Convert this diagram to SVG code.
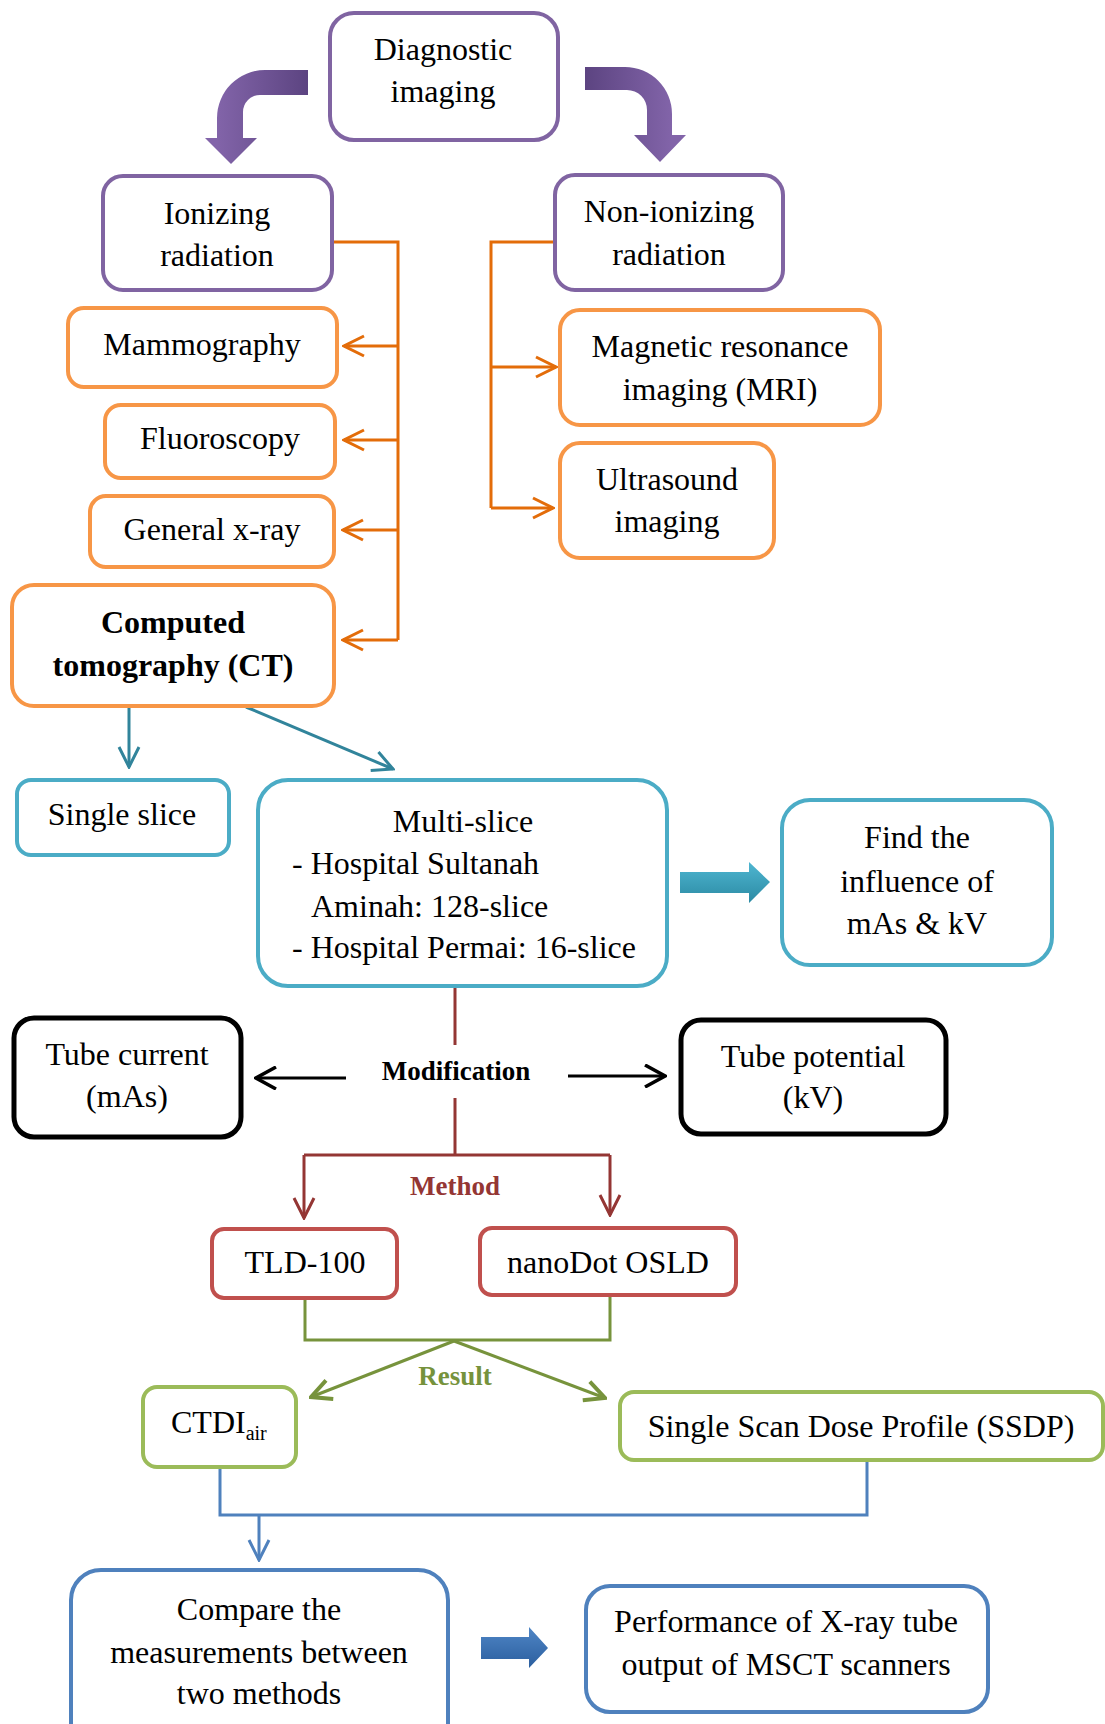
<svg xmlns="http://www.w3.org/2000/svg" width="1105" height="1724" viewBox="0 0 1105 1724">
<style>
.t{font-family:"Liberation Serif","Times New Roman",serif;font-size:32px;fill:#000}
.c{text-anchor:middle}
.b{font-weight:bold}
.lbl{font-family:"Liberation Serif","Times New Roman",serif;font-size:27px;font-weight:bold;text-anchor:middle}
.box{fill:#fff;stroke-width:4}
.pu{stroke:#8064A2}
.or{stroke:#F79646}
.cy{stroke:#4BACC6}
.bk{stroke:#000;stroke-width:5}
.rd{stroke:#C0504D}
.gr{stroke:#9BBB59}
.bl{stroke:#4F81BD}
.ln{fill:none;stroke-width:3}
</style>
<defs>
<linearGradient id="gL" x1="217" y1="0" x2="308" y2="0" gradientUnits="userSpaceOnUse"><stop offset="0" stop-color="#8264A9"/><stop offset="1" stop-color="#5C4481"/></linearGradient>
<linearGradient id="gR" x1="585" y1="0" x2="672" y2="0" gradientUnits="userSpaceOnUse"><stop offset="0" stop-color="#5C4481"/><stop offset="1" stop-color="#8264A9"/></linearGradient>
<linearGradient id="gC" x1="0" y1="0" x2="0" y2="1"><stop offset="0" stop-color="#4FB6D1"/><stop offset="1" stop-color="#2B8AA3"/></linearGradient>
<linearGradient id="gB" x1="0" y1="0" x2="0" y2="1"><stop offset="0" stop-color="#4F86C6"/><stop offset="1" stop-color="#2B5E9E"/></linearGradient>
<marker id="mO" viewBox="-22 -12 24 24" refX="0" refY="0" markerWidth="24" markerHeight="24" markerUnits="userSpaceOnUse" orient="auto"><path d="M-20,-10 L0,0 L-20,10" fill="none" stroke="#E36C09" stroke-width="3"/></marker>
<marker id="mT" viewBox="-22 -12 24 24" refX="0" refY="0" markerWidth="24" markerHeight="24" markerUnits="userSpaceOnUse" orient="auto"><path d="M-20,-10 L0,0 L-20,10" fill="none" stroke="#31849B" stroke-width="3"/></marker>
<marker id="mK" viewBox="-22 -12 24 24" refX="0" refY="0" markerWidth="24" markerHeight="24" markerUnits="userSpaceOnUse" orient="auto"><path d="M-20,-11 L0,0 L-20,11" fill="none" stroke="#000" stroke-width="3.5"/></marker>
<marker id="mR" viewBox="-22 -12 24 24" refX="0" refY="0" markerWidth="24" markerHeight="24" markerUnits="userSpaceOnUse" orient="auto"><path d="M-20,-10 L0,0 L-20,10" fill="none" stroke="#943634" stroke-width="3"/></marker>
<marker id="mG" viewBox="-22 -12 24 24" refX="0" refY="0" markerWidth="24" markerHeight="24" markerUnits="userSpaceOnUse" orient="auto"><path d="M-20,-10 L0,0 L-20,10" fill="none" stroke="#77933C" stroke-width="4"/></marker>
<marker id="mB" viewBox="-22 -12 24 24" refX="0" refY="0" markerWidth="24" markerHeight="24" markerUnits="userSpaceOnUse" orient="auto"><path d="M-20,-10 L0,0 L-20,10" fill="none" stroke="#4F81BD" stroke-width="3"/></marker>
</defs>

<g id="connectors">
<path d="M308,70 H265 A48,48 0 0 0 217,118 V138 H205 L231,164 L257,138 H243 V112 A17,17 0 0 1 260,95 H308 Z" fill="url(#gL)"/>
<path d="M585,67 H625 A47,47 0 0 1 672,114 V135 H686 L660,162 L634,135 H647 V110 A20,20 0 0 0 627,90 H585 Z" fill="url(#gR)"/>
<path class="ln" stroke="#E36C09" d="M332,242 H398 V640"/>
<path class="ln" stroke="#E36C09" marker-end="url(#mO)" d="M398,346 H344"/>
<path class="ln" stroke="#E36C09" marker-end="url(#mO)" d="M398,440 H344"/>
<path class="ln" stroke="#E36C09" marker-end="url(#mO)" d="M398,530 H343"/>
<path class="ln" stroke="#E36C09" marker-end="url(#mO)" d="M398,640 H343"/>
<path class="ln" stroke="#E36C09" d="M555,242 H491 V508"/>
<path class="ln" stroke="#E36C09" marker-end="url(#mO)" d="M491,367 H556"/>
<path class="ln" stroke="#E36C09" marker-end="url(#mO)" d="M491,508 H553"/>
<path class="ln" stroke="#31849B" marker-end="url(#mT)" d="M129,707 V767"/>
<path class="ln" stroke="#31849B" marker-end="url(#mT)" d="M246,707 L393,769"/>
<path d="M680,872 H749 V862 L770,882 L749,903 V893 H680 Z" fill="url(#gC)"/>
<path class="ln" stroke="#943634" d="M455,987 V1045 M455,1098 V1155 M304,1155 H610"/>
<path class="ln" stroke="#943634" marker-end="url(#mR)" d="M304,1155 V1218"/>
<path class="ln" stroke="#943634" marker-end="url(#mR)" d="M610,1155 V1215"/>
<path class="ln" stroke="#000" stroke-width="3.5" marker-end="url(#mK)" d="M346,1078 H256"/>
<path class="ln" stroke="#000" stroke-width="3.5" marker-end="url(#mK)" d="M568,1076 H665"/>
<path class="ln" stroke="#77933C" stroke-width="4" d="M305,1298 V1340 H610 V1295"/>
<path class="ln" stroke="#77933C" stroke-width="4" marker-end="url(#mG)" d="M454,1341 L311,1397"/>
<path class="ln" stroke="#77933C" stroke-width="4" marker-end="url(#mG)" d="M454,1341 L605,1398"/>
<path class="ln" stroke="#4F81BD" d="M220,1467 V1515 H867 V1460"/>
<path class="ln" stroke="#4F81BD" marker-end="url(#mB)" d="M259,1515 V1560"/>
<path d="M481,1637 H529 V1627 L548,1648 L529,1668 V1659 H481 Z" fill="url(#gB)"/>
</g>

<g id="n-diagnostic"><rect class="box pu" x="330" y="13" width="228" height="127" rx="24"/><text class="t c" x="443" y="60">Diagnostic</text><text class="t c" x="443" y="102">imaging</text></g>
<g id="n-ionizing"><rect class="box pu" x="103" y="176" width="229" height="114" rx="20"/><text class="t c" x="217" y="224">Ionizing</text><text class="t c" x="217" y="266">radiation</text></g>
<g id="n-nonionizing"><rect class="box pu" x="555" y="175" width="228" height="115" rx="20"/><text class="t c" x="669" y="222">Non-ionizing</text><text class="t c" x="669" y="265">radiation</text></g>
<g id="n-mammography"><rect class="box or" x="68" y="308" width="269" height="79" rx="16"/><text class="t c" x="202" y="355">Mammography</text></g>
<g id="n-fluoroscopy"><rect class="box or" x="105" y="405" width="230" height="73" rx="16"/><text class="t c" x="220" y="449">Fluoroscopy</text></g>
<g id="n-general"><rect class="box or" x="90" y="496" width="244" height="71" rx="16"/><text class="t c" x="212" y="540">General x-ray</text></g>
<g id="n-ct"><rect class="box or" x="12" y="585" width="322" height="121" rx="22"/><text class="t c b" x="173" y="633">Computed</text><text class="t c b" x="173" y="676">tomography (CT)</text></g>
<g id="n-mri"><rect class="box or" x="560" y="310" width="320" height="115" rx="20"/><text class="t c" x="720" y="357">Magnetic resonance</text><text class="t c" x="720" y="400">imaging (MRI)</text></g>
<g id="n-ultrasound"><rect class="box or" x="560" y="443" width="214" height="115" rx="20"/><text class="t c" x="667" y="490">Ultrasound</text><text class="t c" x="667" y="532">imaging</text></g>
<g id="n-single"><rect class="box cy" x="17" y="780" width="212" height="75" rx="14"/><text class="t c" x="122" y="825">Single slice</text></g>
<g id="n-multi"><rect class="box cy" x="258" y="780" width="409" height="206" rx="30"/><text class="t c" x="463" y="832">Multi-slice</text><text class="t" x="292" y="874">- Hospital Sultanah</text><text class="t" x="311" y="917">Aminah: 128-slice</text><text class="t" x="292" y="958">- Hospital Permai: 16-slice</text></g>
<g id="n-find"><rect class="box cy" x="782" y="800" width="270" height="165" rx="28"/><text class="t c" x="917" y="848">Find the</text><text class="t c" x="917" y="892">influence of</text><text class="t c" x="917" y="934">mAs &amp; kV</text></g>
<g id="n-tubecurrent"><rect class="box bk" x="14" y="1018" width="227" height="119" rx="20"/><text class="t c" x="127" y="1065">Tube current</text><text class="t c" x="127" y="1107">(mAs)</text></g>
<g id="n-modification"><text class="lbl" x="456" y="1080">Modification</text></g>
<g id="n-tubepotential"><rect class="box bk" x="681" y="1020" width="265" height="114" rx="20"/><text class="t c" x="813" y="1067">Tube potential</text><text class="t c" x="813" y="1108">(kV)</text></g>
<g id="n-method"><text class="lbl" x="455" y="1195" fill="#943634">Method</text></g>
<g id="n-tld"><rect class="box rd" x="212" y="1229" width="185" height="69" rx="12"/><text class="t c" x="305" y="1273">TLD-100</text></g>
<g id="n-nanodot"><rect class="box rd" x="480" y="1228" width="256" height="67" rx="12"/><text class="t c" x="608" y="1273">nanoDot OSLD</text></g>
<g id="n-result"><text class="lbl" x="455" y="1385" fill="#76923C">Result</text></g>
<g id="n-ctdi"><rect class="box gr" x="143" y="1387" width="153" height="80" rx="14"/><text class="t" x="171" y="1433">CTDI<tspan font-size="20" dy="7">air</tspan></text></g>
<g id="n-ssdp"><rect class="box gr" x="620" y="1392" width="483" height="68" rx="14"/><text class="t c" x="861" y="1437">Single Scan Dose Profile (SSDP)</text></g>
<g id="n-compare"><rect class="box bl" x="71" y="1570" width="377" height="190" rx="30"/><text class="t c" x="259" y="1620">Compare the</text><text class="t c" x="259" y="1663">measurements between</text><text class="t c" x="259" y="1704">two methods</text></g>
<g id="n-performance"><rect class="box bl" x="586" y="1586" width="402" height="126" rx="24"/><text class="t c" x="786" y="1632">Performance of X-ray tube</text><text class="t c" x="786" y="1675">output of MSCT scanners</text></g>
</svg>
